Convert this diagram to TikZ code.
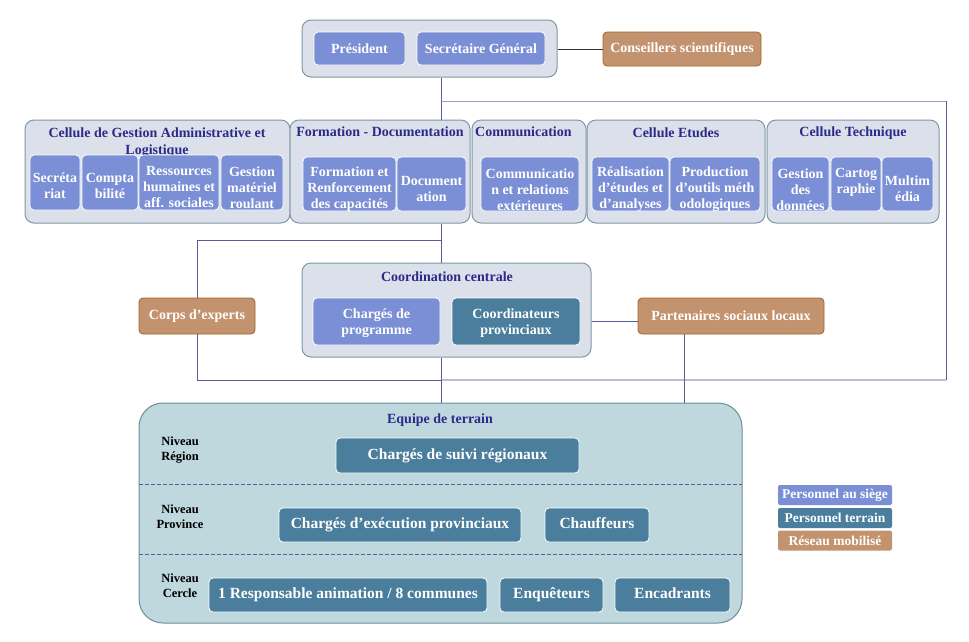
\documentclass[tikz,border=0pt]{standalone}
\usepackage{fontspec}
\setmainfont{Liberation Serif}
\definecolor{siegecol}{HTML}{7A8FD5}
\definecolor{terraincol}{HTML}{4A7E9C}
\definecolor{reseaucol}{HTML}{C3926F}
\definecolor{reseauline}{HTML}{A0682A}
\definecolor{outerfill}{HTML}{DCE0EA}
\definecolor{outerline}{HTML}{7F98A5}
\definecolor{equipefill}{HTML}{BED8DE}
\definecolor{equipeline}{HTML}{6E8E99}
\definecolor{titlecol}{HTML}{2A2A88}
\definecolor{linecol}{HTML}{5A5AA0}
\definecolor{lightline}{HTML}{C0BCD4}
\definecolor{midline}{HTML}{9A9ABF}
\tikzset{
  outerbox/.style={draw=outerline, fill=outerfill, rounded corners=9pt, line width=1pt, inner sep=0pt},
  basebox/.style={rounded corners=4pt, text=white, align=center, inner sep=0pt,
    font=\bfseries\fontsize{14}{16}\selectfont},
  siegebox/.style={basebox, fill=siegecol, draw=white, line width=0.8pt},
  terrbox/.style={basebox, fill=terraincol, draw=white, line width=0.8pt},
  reseaubox/.style={basebox, fill=reseaucol, draw=reseauline, line width=0.8pt},
  boxtext/.style={text=white, align=center, inner sep=0pt, font=\bfseries\fontsize{14}{16}\selectfont},
  eqbox/.style={terrbox, font=\bfseries\fontsize{15.5}{17}\selectfont, text height=11pt, text depth=3.5pt},
  legbox/.style={basebox, rounded corners=2pt, font=\bfseries\fontsize{13.5}{14}\selectfont},
  ttl/.style={text=titlecol, font=\bfseries\fontsize{14}{17}\selectfont, align=center, inner sep=0pt},
  niv/.style={text=black, font=\bfseries\fontsize{12.5}{15}\selectfont, align=center, inner sep=0pt},
  conn/.style={draw=linecol, line width=0.9pt},
}
% \ibox{style}{name}{x}{y}{w}{h}{text}{down-shift of the text}
\newcommand{\ibox}[8]{%
  \node[#1, minimum width=#5, minimum height=#6] (#2) at (#3,#4) {};
  \node[boxtext] (#2-t) at ([yshift=-#8pt]#2.center) {#7};
}
\begin{document}
\begin{tikzpicture}[x=1pt,y=-1pt]
\useasboundingbox[fill=white] (0,0) rectangle (969,641);

% ---------- top ----------
\node[outerbox, minimum width=255, minimum height=57] (top) at (429.5,48.5) {};
\node[siegebox, minimum width=91, minimum height=33] (pres) at (359.5,48.5) {Président};
\node[siegebox, minimum width=128, minimum height=33] (sg) at (481,48.5) {Secrétaire Général};
\node[reseaubox, minimum width=158, minimum height=34] (cons) at (682,49) {Conseillers scientifiques};

% ---------- cells row ----------
\node[outerbox, minimum width=265, minimum height=103] (cga) at (157.5,171.5) {};
\node[outerbox, minimum width=180, minimum height=103] (form) at (380,171.5) {};
\node[outerbox, minimum width=114, minimum height=103] (comm) at (529,171.5) {};
\node[outerbox, minimum width=178, minimum height=103] (etu) at (676,171.5) {};
\node[outerbox, minimum width=172, minimum height=103] (tech) at (853,171.5) {};

\node[ttl] (cgat) at (157,142.5) {Cellule de Gestion Administrative et\\Logistique};
\node[ttl] (formt) at (380,132) {Formation - Documentation};
\node[ttl, anchor=west] (commt) at (475,132) {Communication};
\node[ttl] (etut) at (676,133) {Cellule Etudes};
\node[ttl] (techt) at (853,133) {Cellule Technique};

\ibox{siegebox}{secr}{55}{182.5}{50}{55}{Secréta\\riat}{3.5}
\ibox{siegebox}{compta}{110}{182.5}{56}{55}{Compta\\bilité}{3.5}
\ibox{siegebox}{rh}{179}{182.5}{80}{55}{Ressources\\humaines et\\aff. sociales}{5}
\ibox{siegebox}{gmr}{252}{182.5}{62}{55}{Gestion\\matériel\\roulant}{5}

\ibox{siegebox}{frc}{349.5}{184}{93}{54}{Formation et\\Renforcement\\des capacités}{5.5}
\ibox{siegebox}{doc}{431.5}{184}{69}{54}{Document\\ation}{5}

\ibox{siegebox}{cre}{530}{184}{98}{54}{Communicatio\\n et relations\\extérieures}{5.5}

\ibox{siegebox}{rea}{630.5}{184}{77}{54}{Réalisation\\d’études et\\d’analyses}{5.5}
\ibox{siegebox}{prod}{715}{184}{90}{54}{Production\\d’outils méth\\odologiques}{5.5}

\ibox{siegebox}{gdd}{800.5}{184}{57}{54}{Gestion\\des\\données}{5.5}
\ibox{siegebox}{carto}{856}{184}{50}{54}{Cartog\\raphie}{-2}
\ibox{siegebox}{multi}{907.5}{184}{51}{54}{Multim\\édia}{5}

% ---------- coordination ----------
\node[outerbox, minimum width=289, minimum height=94] (coord) at (446.5,310) {};
\node[ttl] (coordt) at (447,277) {Coordination centrale};
\ibox{siegebox}{cdp}{376.5}{321.5}{127}{47}{Chargés de\\programme}{2}
\ibox{terrbox}{cprov}{516}{321.5}{128}{47}{Coordinateurs\\provinciaux}{2}

\node[reseaubox, minimum width=116, minimum height=36] (corps) at (197,316) {Corps d’experts};
\node[reseaubox, minimum width=186, minimum height=36] (part) at (731,316) {Partenaires sociaux locaux};

% ---------- junction coordinates ----------
\coordinate (jtop) at (441,101);
\coordinate (jright) at (946,101);
\coordinate (jrb) at (946,380);
\coordinate (jmid) at (441,380);
\coordinate (jcells) at (441,240);
\coordinate (jcorpsb) at (197,380);
\coordinate (jpart) at (684,380);

% ---------- equipe ----------
\node[draw=equipeline, fill=equipefill, line width=1pt, rounded corners=24pt,
      minimum width=603, minimum height=220, inner sep=0pt] (eq) at (440.5,513) {};
\coordinate (dl1) at (139,484);
\coordinate (dr1) at (742,484);
\coordinate (dl2) at (139,554);
\coordinate (dr2) at (742,554);
\draw[linecol, line width=0.8pt, dash pattern=on 3.5pt off 2.5pt] (dl1) -- (dr1);
\draw[linecol, line width=0.8pt, dash pattern=on 3.5pt off 2.5pt] (dl2) -- (dr2);
\node[ttl] (eqt) at (440,420) {Equipe de terrain};
\node[niv] (nreg) at (180,450.5) {Niveau\\Région};
\node[niv] (nprov) at (180,516.5) {Niveau\\Province};
\node[niv] (ncer) at (180,586) {Niveau\\Cercle};

\node[eqbox, minimum width=243, minimum height=35] (csr) at (457.5,455.5) {Chargés de suivi régionaux};
\node[eqbox, minimum width=242, minimum height=34] (cep) at (400,525) {Chargés d’exécution provinciaux};
\node[eqbox, minimum width=104, minimum height=34] (chauf) at (597,525) {Chauffeurs};
\node[eqbox, minimum width=278, minimum height=34] (resp) at (348,595) {1 Responsable animation / 8 communes};
\node[eqbox, minimum width=103, minimum height=34] (enq) at (551.5,595) {Enquêteurs};
\node[eqbox, minimum width=115, minimum height=34] (enc) at (672.5,595) {Encadrants};

% ---------- legend ----------
\node[legbox, fill=siegecol, minimum width=114, minimum height=20] (lg1) at (835,495) {Personnel au siège};
\node[legbox, fill=terraincol, minimum width=114, minimum height=20] (lg2) at (835,518) {Personnel terrain};
\node[legbox, fill=reseaucol, minimum width=114, minimum height=20] (lg3) at (835,540.5) {Réseau mobilisé};

% ---------- connectors ----------
\draw[black!80, line width=0.8pt] (top.east |- cons.west) -- (cons.west);
\draw[conn] (top.south -| jtop) -- (form.north -| jtop);
\draw[midline, line width=0.9pt] (jtop) -- (jright);
\draw[conn] (jright) -- (jrb);
\draw[lightline, line width=2pt] (jrb) -- (jmid);
\draw[conn] (form.south -| jcells) -- (coord.north -| jcells);
\draw[conn] (jcells) -| (corps.north);
\draw[conn] (corps.south) -- (jcorpsb) -- (jmid);
\draw[conn] (coord.south -| jmid) -- (eq.north -| jmid);
\draw[conn] (coord.east |- cprov.east) -- (part.west |- cprov.east);
\draw[conn] (part.south -| jpart) -- (eq.north -| jpart);
\end{tikzpicture}
\end{document}
